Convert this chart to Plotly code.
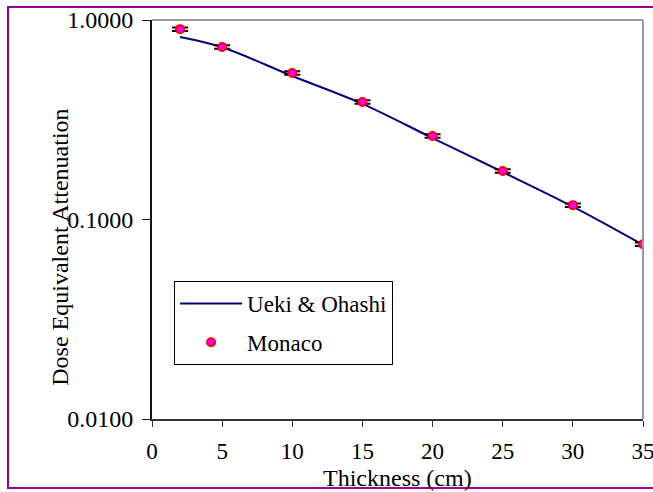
import plotly.graph_objects as go

thickness = [2, 5, 10, 15, 20, 25, 30, 35]
ueki_ohashi = [0.822, 0.730, 0.524, 0.380, 0.256, 0.173, 0.116, 0.0746]
monaco = [0.900, 0.732, 0.542, 0.388, 0.262, 0.175, 0.118, 0.0752]
monaco_err_pct = 2

x_ticks = [0, 5, 10, 15, 20, 25, 30, 35]
y_ticks = [0.01, 0.1, 1.0]
y_tick_labels = ["0.0100", "0.1000", "1.0000"]

FONT = "Liberation Serif"

fig = go.Figure()
fig.add_trace(go.Scatter(
    x=thickness, y=ueki_ohashi, mode="lines", name="Ueki & Ohashi",
    legendgroup="a",
    line=dict(color="#000080", width=2, shape="spline"),
))
fig.add_trace(go.Scatter(
    x=thickness, y=monaco, mode="markers", name="Monaco",
    legendgroup="b",
    marker=dict(color="#FF00FF", size=8, line=dict(color="#FF0000", width=2)),
    error_y=dict(type="percent", value=monaco_err_pct, symmetric=True, color="black",
                 thickness=2, width=8),
))

fig.update_layout(
    width=653, height=492,
    margin=dict(l=152, r=10, t=20, b=73, autoexpand=False),
    paper_bgcolor="white", plot_bgcolor="white",
    font=dict(family=FONT, size=24, color="black"),
    showlegend=True,
    legend=dict(
        x=0.045, y=0.346, xanchor="left", yanchor="top",
        bordercolor="black", borderwidth=1, bgcolor="white",
        font=dict(family=FONT, size=23),
        traceorder="grouped", tracegroupgap=6,
        itemwidth=62,
    ),
)
fig.update_xaxes(
    range=[0, 35], tickvals=x_ticks, showgrid=False, zeroline=False,
    showline=True, linecolor="#333", linewidth=2, automargin=False,
    ticks="outside", ticklen=6, tickcolor="#333", tickwidth=1,
    tickfont=dict(family=FONT, size=23), ticklabeloverflow="allow",
    ticklabelstandoff=4,
)
fig.update_yaxes(
    type="log", range=[-2, 0], tickvals=y_ticks, ticktext=y_tick_labels,
    showgrid=False, zeroline=False, automargin=False,
    showline=True, linecolor="#111", linewidth=2,
    ticks="outside", ticklen=8, tickcolor="#111", tickwidth=1,
    tickfont=dict(family=FONT, size=24), ticklabeloverflow="allow",
    ticklabelstandoff=4,
)
# axis titles
fig.add_annotation(text="Thickness (cm)", xref="paper", yref="paper",
                   x=0.5, y=-0.147, xanchor="center", yanchor="middle",
                   showarrow=False, font=dict(family=FONT, size=24))
fig.add_annotation(text="Dose Equivalent Attenuation", xref="paper", yref="paper",
                   x=-0.188, y=0.431, xanchor="center", yanchor="middle",
                   textangle=-90, showarrow=False, font=dict(family=FONT, size=24))
# grey top and right frame of the plot area
fig.add_shape(type="line", xref="paper", yref="paper", x0=0, x1=1, y0=1, y1=1,
              line=dict(color="#9a9a9a", width=2))
fig.add_shape(type="line", xref="paper", yref="paper", x0=1, x1=1, y0=0, y1=1,
              line=dict(color="#9a9a9a", width=2))
# purple outer border
fig.add_shape(type="rect", xref="paper", yref="paper",
              x0=-0.2933, x1=1.05, y0=-0.1729, y1=1.0326,
              line=dict(color="#990099", width=2), layer="above")

fig.write_html("out.html", config={"displayModeBar": False},
               post_script="document.body.style.margin='0';")
